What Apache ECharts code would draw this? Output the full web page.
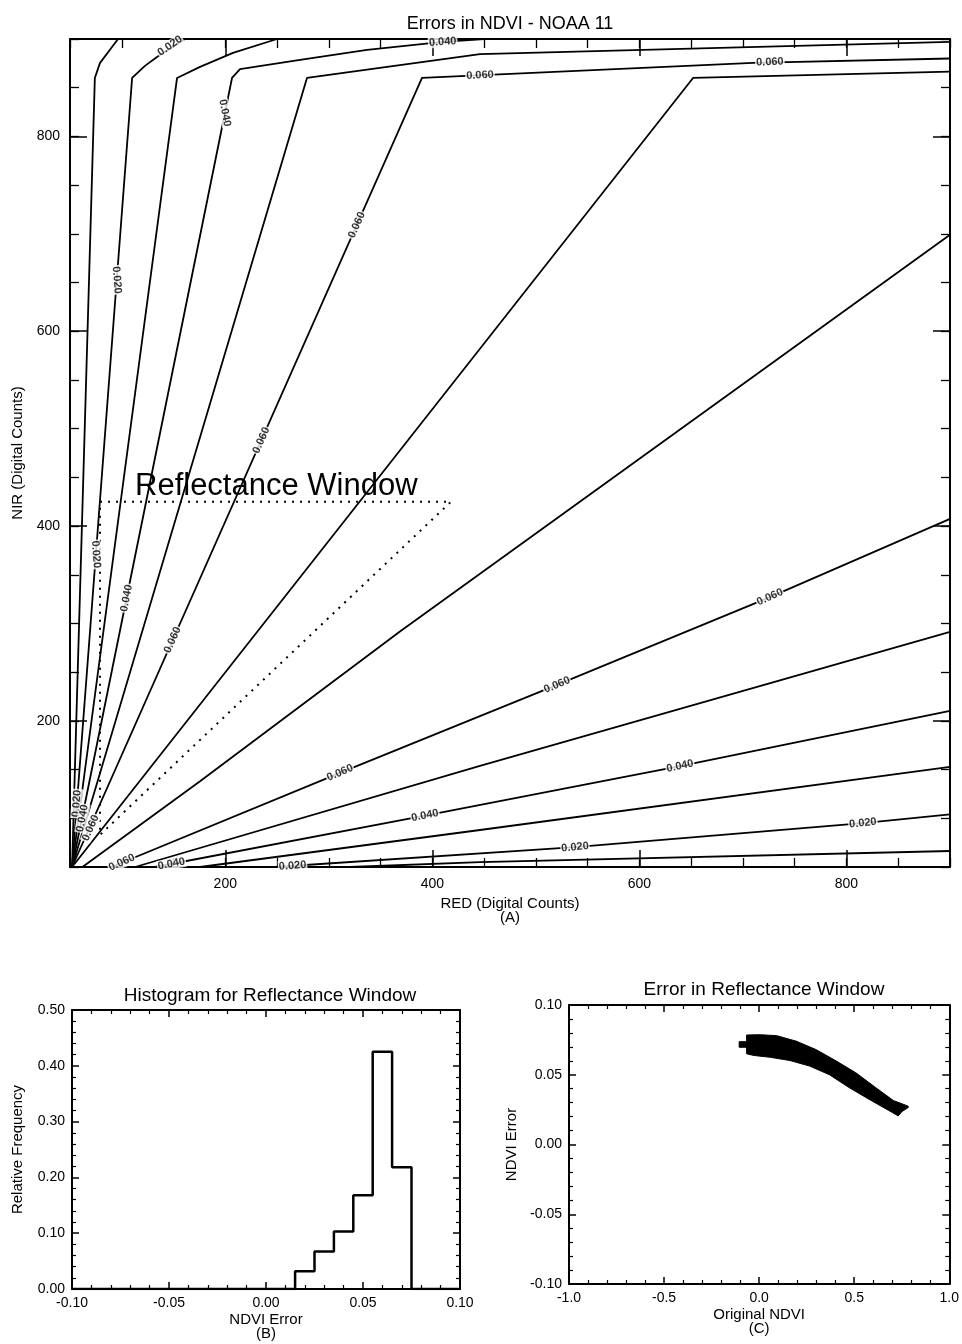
<!DOCTYPE html>
<html>
<head>
<meta charset="utf-8">
<script src="https://cdn.jsdelivr.net/npm/echarts@6/dist/echarts.min.js"></script>
<style>
  html, body { margin: 0; padding: 0; background: #fff; }
  #chart { width: 962px; height: 1344px; }
</style>
</head>
<body>
<div id="chart"></div>
<script>
// ---- (A) NDVI error contours over RED / NIR digital counts ----
// Each contour is a polyline of [RED, NIR] points.
const contour010hi = [[52, 50], [74, 860], [79, 875.5], [88.6, 889], [96.4, 900]];
const contour020hi = [[52, 50], [110, 860], [122.4, 872.4], [134, 881.6], [161, 900]];
const contour030hi = [[52, 50], [153.4, 860], [175.6, 871.4], [207.4, 885.7], [250, 900]];
const contour040hi = [[52, 50], [206.5, 860], [214.2, 869], [272.2, 878.5], [336.9, 888.8], [410, 897], [450, 900]];
const contour050hi = [[52, 50], [278.9, 860], [446, 884.5], [900, 897]];
const contour060hi = [[52, 50], [390, 860], [709.7, 875.5], [900, 880]];
const contour070hi = [[52, 50], [651.8, 860], [900, 866.6]];

const contour070lo = [[62, 50], [175.6, 138], [368.7, 291.7], [900, 699]];
const contour060lo = [[90, 50], [310.8, 146.7], [520.4, 236.9], [726.1, 327], [900, 407.3]];
const contour050lo = [[112.8, 50], [446, 153.7], [900, 291.3]];
const contour040lo = [[132, 50], [392.9, 102.8], [639.2, 153.5], [900, 210.2]];
const contour030lo = [[175.6, 50], [446, 88], [900, 152.7]];
const contour020lo = [[248, 50], [537.8, 70.3], [815.9, 95.1], [900, 104]];
const contour010lo = [[320, 50], [446, 55], [900, 66.4]];

// Contour labels: [RED, NIR, text, angle in degrees]
const contourLabels = [
  [146.6, 892.9, '0.020', 35],
  [95.2, 652.7, '0.020', -86],
  [75.0, 371.0, '0.020', -86],
  [56.5, 115.0, '0.020', 86],
  [199.6, 824.0, '0.040', -79],
  [104.6, 326.0, '0.040', 79],
  [62.0, 100.0, '0.040', 79],
  [410.0, 897.0, '0.040', 4],
  [327.0, 709.0, '0.060', 66],
  [234.8, 488.0, '0.060', 66],
  [149.2, 283.0, '0.060', 66],
  [70.0, 90.0, '0.060', 66],
  [446.0, 862.7, '0.060', 3],
  [726.0, 876.3, '0.060', 2],
  [100.0, 54.4, '0.060', 24],
  [310.8, 146.7, '0.060', 23],
  [520.4, 236.9, '0.060', 23],
  [726.1, 327.0, '0.060', 24],
  [148.0, 53.2, '0.040', 11],
  [392.9, 102.8, '0.040', 11],
  [639.2, 153.5, '0.040', 12],
  [265.0, 51.2, '0.020', 4],
  [537.8, 70.3, '0.020', 5],
  [815.9, 95.1, '0.020', 6]
];

// Reflectance window outline (dotted triangle)
const windowOutline = [[79, 425], [418, 425], [79, 83], [79, 425]];

const redTicks = [200, 400, 600, 800];
const nirTicks = [200, 400, 600, 800];

// ---- (B) histogram of NDVI error inside the window ----
const histBinEdges = [0.015, 0.025, 0.035, 0.045, 0.055, 0.065, 0.075];
const histFreq = [0.032, 0.067, 0.103, 0.168, 0.425, 0.218];

// ---- (C) NDVI error versus original NDVI: band outline ----
const bandUpper = [[-0.066, 0.0785], [0.007, 0.0787], [0.093, 0.0780], [0.197, 0.0740], [0.300, 0.0680],
  [0.404, 0.0600], [0.508, 0.0515], [0.611, 0.0410], [0.706, 0.0315], [0.784, 0.0275]];
const bandLower = [[-0.066, 0.0650], [-0.027, 0.0638], [0.059, 0.0625], [0.162, 0.0602], [0.266, 0.0562],
  [0.370, 0.0500], [0.473, 0.0408], [0.577, 0.0325], [0.680, 0.0245], [0.732, 0.0205], [0.750, 0.0235], [0.784, 0.0265]];
const bandStub = [[-0.105, 0.0737], [-0.062, 0.0737], [-0.062, 0.0697], [-0.105, 0.0697]];

// ------------------------------------------------------------------
const INK = '#000';
const FONT = '"Liberation Sans", Arial, Helvetica, sans-serif';

function mainMajorAxis(position, ticks, showLabels, extra) {
  return Object.assign({
    type: 'value', gridIndex: 0, position: position, min: 50, max: 900,
    axisLine: { show: true, onZero: false, lineStyle: { color: INK, width: 2 } },
    axisTick: { show: true, inside: true, length: 17, customValues: ticks, lineStyle: { color: INK, width: 1.5 } },
    axisLabel: { show: showLabels, customValues: ticks, color: INK, fontSize: 14, fontFamily: FONT, margin: 10 },
    splitLine: { show: false }
  }, extra || {});
}
function mainMinorAxis(position) {
  return {
    type: 'value', gridIndex: 0, position: position, min: 50, max: 900, interval: 50,
    axisLine: { show: false, onZero: false },
    axisTick: { show: true, inside: true, length: 9, lineStyle: { color: INK, width: 1.3 } },
    axisLabel: { show: false }, splitLine: { show: false }
  };
}
function panelAxis(gridIndex, position, min, max, interval, digits, showLabels, extra) {
  return Object.assign({
    type: 'value', gridIndex: gridIndex, position: position, min: min, max: max, interval: interval,
    axisLine: { show: true, onZero: false, lineStyle: { color: INK, width: 2 } },
    axisTick: { show: true, inside: true, length: 7, lineStyle: { color: INK, width: 1.5 } },
    minorTick: { show: true, splitNumber: 5, length: 4, lineStyle: { color: INK, width: 1.2 } },
    axisLabel: {
      show: showLabels, color: INK, fontSize: 14, fontFamily: FONT, margin: 7,
      formatter: function (v) { return (Math.abs(v) < 1e-9 ? 0 : v).toFixed(digits); }
    },
    splitLine: { show: false }, minorSplitLine: { show: false }
  }, extra || {});
}

const nameStyle = { color: INK, fontSize: 15, fontFamily: FONT, lineHeight: 14 };

function contourSeries(points) {
  return {
    type: 'line', xAxisIndex: 0, yAxisIndex: 0, data: points, showSymbol: false, symbol: 'none',
    clip: true, silent: true, z: 2,
    lineStyle: { color: INK, width: 1.8 }
  };
}

// histogram outline as steps
const histSteps = [[-0.1, 0], [histBinEdges[0], 0]];
histFreq.forEach(function (f, i) {
  histSteps.push([histBinEdges[i], f]);
  histSteps.push([histBinEdges[i + 1], f]);
});
histSteps.push([histBinEdges[histBinEdges.length - 1], 0]);
histSteps.push([0.1, 0]);

const bandPolygon = bandUpper.concat(bandLower.slice().reverse());

const chart = echarts.init(document.getElementById('chart'), null, { renderer: 'canvas' });

chart.setOption({
  animation: false,
  backgroundColor: '#fff',
  textStyle: { fontFamily: FONT },
  title: [
    { text: 'Errors in NDVI - NOAA 11', left: 505, top: 10, textAlign: 'center',
      textStyle: { color: INK, fontSize: 18, fontWeight: 'normal', fontFamily: FONT } },
    { text: 'Histogram for Reflectance Window', left: 265, top: 981, textAlign: 'center',
      textStyle: { color: INK, fontSize: 19, fontWeight: 'normal', fontFamily: FONT } },
    { text: 'Error in Reflectance Window', left: 759, top: 975, textAlign: 'center',
      textStyle: { color: INK, fontSize: 19, fontWeight: 'normal', fontFamily: FONT } }
  ],
  grid: [
    { left: 70, top: 39, width: 880, height: 828 },
    { left: 72, top: 1010, width: 388, height: 279 },
    { left: 569, top: 1005, width: 386, height: 279 }
  ],
  xAxis: [
    mainMajorAxis('bottom', redTicks, true, {
      name: 'RED (Digital Counts)\n(A)', nameLocation: 'middle', nameGap: 23, nameTextStyle: nameStyle
    }),
    mainMinorAxis('bottom'),
    mainMajorAxis('top', redTicks, false),
    mainMinorAxis('top'),
    panelAxis(1, 'bottom', -0.1, 0.1, 0.05, 2, true, {
      name: 'NDVI Error\n(B)', nameLocation: 'middle', nameGap: 24, nameTextStyle: nameStyle
    }),
    panelAxis(1, 'top', -0.1, 0.1, 0.05, 2, false),
    panelAxis(2, 'bottom', -1, 1, 0.5, 1, true, {
      name: 'Original NDVI\n(C)', nameLocation: 'middle', nameGap: 24, nameTextStyle: nameStyle
    }),
    panelAxis(2, 'top', -1, 1, 0.5, 1, false)
  ],
  yAxis: [
    mainMajorAxis('left', nirTicks, true, {
      name: 'NIR (Digital Counts)', nameLocation: 'middle', nameGap: 44, nameTextStyle: nameStyle
    }),
    mainMinorAxis('left'),
    mainMajorAxis('right', nirTicks, false),
    mainMinorAxis('right'),
    panelAxis(1, 'left', 0, 0.5, 0.1, 2, true, {
      name: 'Relative Frequency', nameLocation: 'middle', nameGap: 47, nameTextStyle: nameStyle
    }),
    panelAxis(1, 'right', 0, 0.5, 0.1, 2, false),
    panelAxis(2, 'left', -0.1, 0.1, 0.05, 2, true, {
      name: 'NDVI Error', nameLocation: 'middle', nameGap: 50, nameTextStyle: nameStyle
    }),
    panelAxis(2, 'right', -0.1, 0.1, 0.05, 2, false)
  ],
  graphic: [
    { type: 'text', left: 135, top: 471, z: 10,
      style: { text: 'Reflectance Window', font: '31px "Liberation Sans", Arial, sans-serif', fill: INK } }
  ],
  series: [
    contourSeries(contour010hi), contourSeries(contour020hi), contourSeries(contour030hi),
    contourSeries(contour040hi), contourSeries(contour050hi), contourSeries(contour060hi),
    contourSeries(contour070hi),
    contourSeries(contour070lo), contourSeries(contour060lo), contourSeries(contour050lo),
    contourSeries(contour040lo), contourSeries(contour030lo), contourSeries(contour020lo),
    contourSeries(contour010lo),
    {
      type: 'line', xAxisIndex: 0, yAxisIndex: 0, data: windowOutline, showSymbol: false, symbol: 'none',
      silent: true, z: 3, lineStyle: { color: INK, width: 2, type: [2, 6] }
    },
    {
      type: 'scatter', xAxisIndex: 0, yAxisIndex: 0, symbolSize: 2, silent: true, z: 6, clip: false,
      itemStyle: { color: 'rgba(0,0,0,0)' },
      label: {
        show: true, position: 'inside', color: INK, fontSize: 11, fontWeight: 'bold', fontFamily: FONT,
        backgroundColor: '#fff', padding: [0, 1]
      },
      labelLayout: { hideOverlap: false },
      data: contourLabels.map(function (l) {
        return { value: [l[0], l[1]], label: { show: true, formatter: l[2], rotate: l[3] } };
      })
    },
    {
      type: 'line', xAxisIndex: 4, yAxisIndex: 4, data: histSteps, showSymbol: false, symbol: 'none',
      silent: true, lineStyle: { color: INK, width: 2.5 }
    },
    {
      type: 'custom', xAxisIndex: 6, yAxisIndex: 6, coordinateSystem: 'cartesian2d', silent: true,
      data: [[0, 0], [0, 0]],
      renderItem: function (params, api) {
        const poly = params.dataIndex === 0 ? bandPolygon : bandStub;
        return {
          type: 'polygon',
          shape: { points: poly.map(function (p) { return api.coord(p); }) },
          style: { fill: INK, stroke: INK, lineWidth: 1 }
        };
      }
    }
  ]
});
</script>
</body>
</html>
